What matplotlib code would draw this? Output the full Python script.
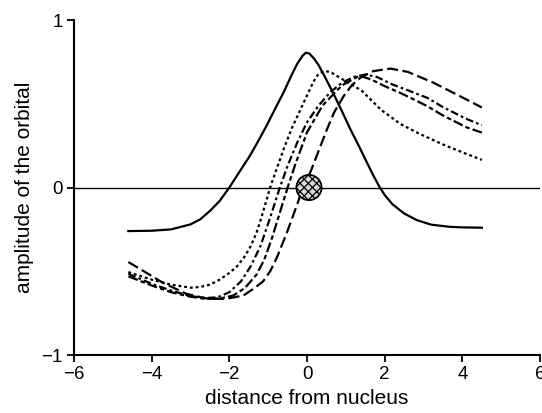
import numpy as np
import matplotlib
matplotlib.use('Agg')
import matplotlib.pyplot as plt

plt.rcParams['font.family'] = ['Liberation Sans', 'DejaVu Sans']
plt.rcParams['hatch.linewidth'] = 0.9

##########
# Curves #
##########
# solid: the orbital on the nucleus
solid_x = [-4.6, -4.0, -3.5, -3.0, -2.75, -2.5, -2.25, -2.0, -1.75, -1.47, -1.25, -1.04,
           -0.8, -0.6, -0.4, -0.25, -0.12, -0.03, 0.06, 0.18, 0.3, 0.45, 0.68, 0.9, 1.11,
           1.33, 1.54, 1.7, 1.85, 2.0, 2.2, 2.5, 2.83, 3.2, 3.69, 4.0, 4.5]
solid_y = [-0.26, -0.258, -0.25, -0.22, -0.19, -0.14, -0.08, 0.0, 0.09, 0.19, 0.28, 0.37,
           0.48, 0.57, 0.67, 0.74, 0.785, 0.805, 0.8, 0.77, 0.73, 0.665, 0.56, 0.455, 0.35,
           0.25, 0.15, 0.075, 0.01, -0.045, -0.1, -0.155, -0.195, -0.222, -0.235, -0.238, -0.24]

# short dashes
dot_x = [-4.6, -4.0, -3.5, -3.0, -2.75, -2.5, -2.25, -2.0, -1.8, -1.6, -1.45, -1.3, -1.15,
         -0.95, -0.8, -0.6, -0.4, -0.18, 0.0, 0.16, 0.3, 0.45, 0.6, 0.85, 1.1, 1.4, 1.9,
         2.4, 2.9, 3.5, 4.0, 4.5]
dot_y = [-0.505, -0.55, -0.58, -0.598, -0.594, -0.58, -0.55, -0.51, -0.47, -0.41, -0.35,
         -0.27, -0.16, 0.0, 0.1, 0.23, 0.35, 0.46, 0.55, 0.63, 0.68, 0.695, 0.69, 0.655,
         0.62, 0.58, 0.465, 0.38, 0.32, 0.257, 0.21, 0.165]

# dash-dot
dd_x = [-4.6, -4.0, -3.5, -3.0, -2.6, -2.3, -2.0, -1.7, -1.45, -1.2, -0.95, -0.7, -0.5,
        -0.25, 0.0, 0.3, 0.6, 0.9, 1.2, 1.5, 1.8, 2.2, 2.6, 3.1, 3.5, 3.8, 4.1, 4.5]
dd_y = [-0.515, -0.575, -0.615, -0.648, -0.66, -0.655, -0.625, -0.56, -0.47, -0.35, -0.18,
        0.0, 0.13, 0.27, 0.39, 0.49, 0.57, 0.625, 0.66, 0.675, 0.66, 0.615, 0.58, 0.535,
        0.48, 0.445, 0.41, 0.372]

# long dash - short dash
ld_x = [-4.6, -4.0, -3.5, -3.0, -2.6, -2.25, -1.9, -1.6, -1.3, -1.1, -0.9, -0.7, -0.5,
        -0.3, 0.0, 0.4, 0.9, 1.35, 1.65, 2.0, 2.4, 2.8, 3.1, 3.5, 3.8, 4.1, 4.5]
ld_y = [-0.53, -0.585, -0.625, -0.652, -0.665, -0.663, -0.645, -0.6, -0.52, -0.43, -0.3,
        -0.15, 0.0, 0.14, 0.33, 0.49, 0.61, 0.668, 0.645, 0.605, 0.565, 0.52, 0.485, 0.43,
        0.395, 0.36, 0.328]

# long dash
long_x = [-4.6, -4.2, -3.7, -3.1, -2.6, -2.2, -1.98, -1.64, -1.35, -1.13, -0.95, -0.78,
          -0.52, -0.3, -0.1, 0.1, 0.3, 0.5, 0.7, 0.94, 1.15, 1.37, 1.7, 2.15, 2.6, 3.26,
          3.94, 4.5]
long_y = [-0.445, -0.5, -0.57, -0.635, -0.662, -0.665, -0.66, -0.645, -0.6, -0.56, -0.5,
          -0.42, -0.27, -0.13, 0.0, 0.1, 0.22, 0.34, 0.45, 0.545, 0.61, 0.655, 0.695, 0.71,
          0.69, 0.625, 0.545, 0.478]

nucleus_x = [0.05]
nucleus_y = [0.0]

xticks = [-6, -4, -2, 0, 2, 4, 6]
yticks = [-1, 0, 1]

fig = plt.figure(figsize=(5.42, 4.13), dpi=100)
ax = fig.add_axes([0.1365, 0.1404, 0.86, 0.8111])

ax.axhline(0, color='black', lw=1.0, zorder=1)

ax.plot(solid_x, solid_y, color='black', lw=1.6)
ax.plot(dot_x, dot_y, color='black', lw=1.6, dashes=(1.3, 1.3))
ax.plot(dd_x, dd_y, color='black', lw=1.6, dashes=(3.5, 1.4, 1.2, 1.4))
ax.plot(ld_x, ld_y, color='black', lw=1.6, dashes=(4.5, 1.4, 2.0, 1.4))
ax.plot(long_x, long_y, color='black', lw=1.6, dashes=(5, 2))

ax.scatter(nucleus_x, nucleus_y, s=330, facecolor='#d8d8d8', edgecolor='black',
           linewidth=1.3, hatch='xxxx', zorder=5)

ax.set_xlim(-6, 6)
ax.set_ylim(-1, 1)
ax.set_xticks(xticks)
ax.set_yticks(yticks)
ax.set_xticklabels([str(t).replace('-', '\u2212') for t in xticks])
ax.set_yticklabels([str(t).replace('-', '\u2212') for t in yticks])

for s in ['top', 'right']:
    ax.spines[s].set_visible(False)
for s in ['left', 'bottom']:
    ax.spines[s].set_linewidth(1.5)

ax.tick_params(direction='out', length=5, width=1.3, labelsize=13.5, pad=3)

ax.set_xlabel('distance from nucleus', fontsize=15, labelpad=4)
ax.set_ylabel('amplitude of the orbital', fontsize=15)
ax.yaxis.set_label_coords(-0.085, 0.5)

plt.savefig('out.png', dpi=100)
